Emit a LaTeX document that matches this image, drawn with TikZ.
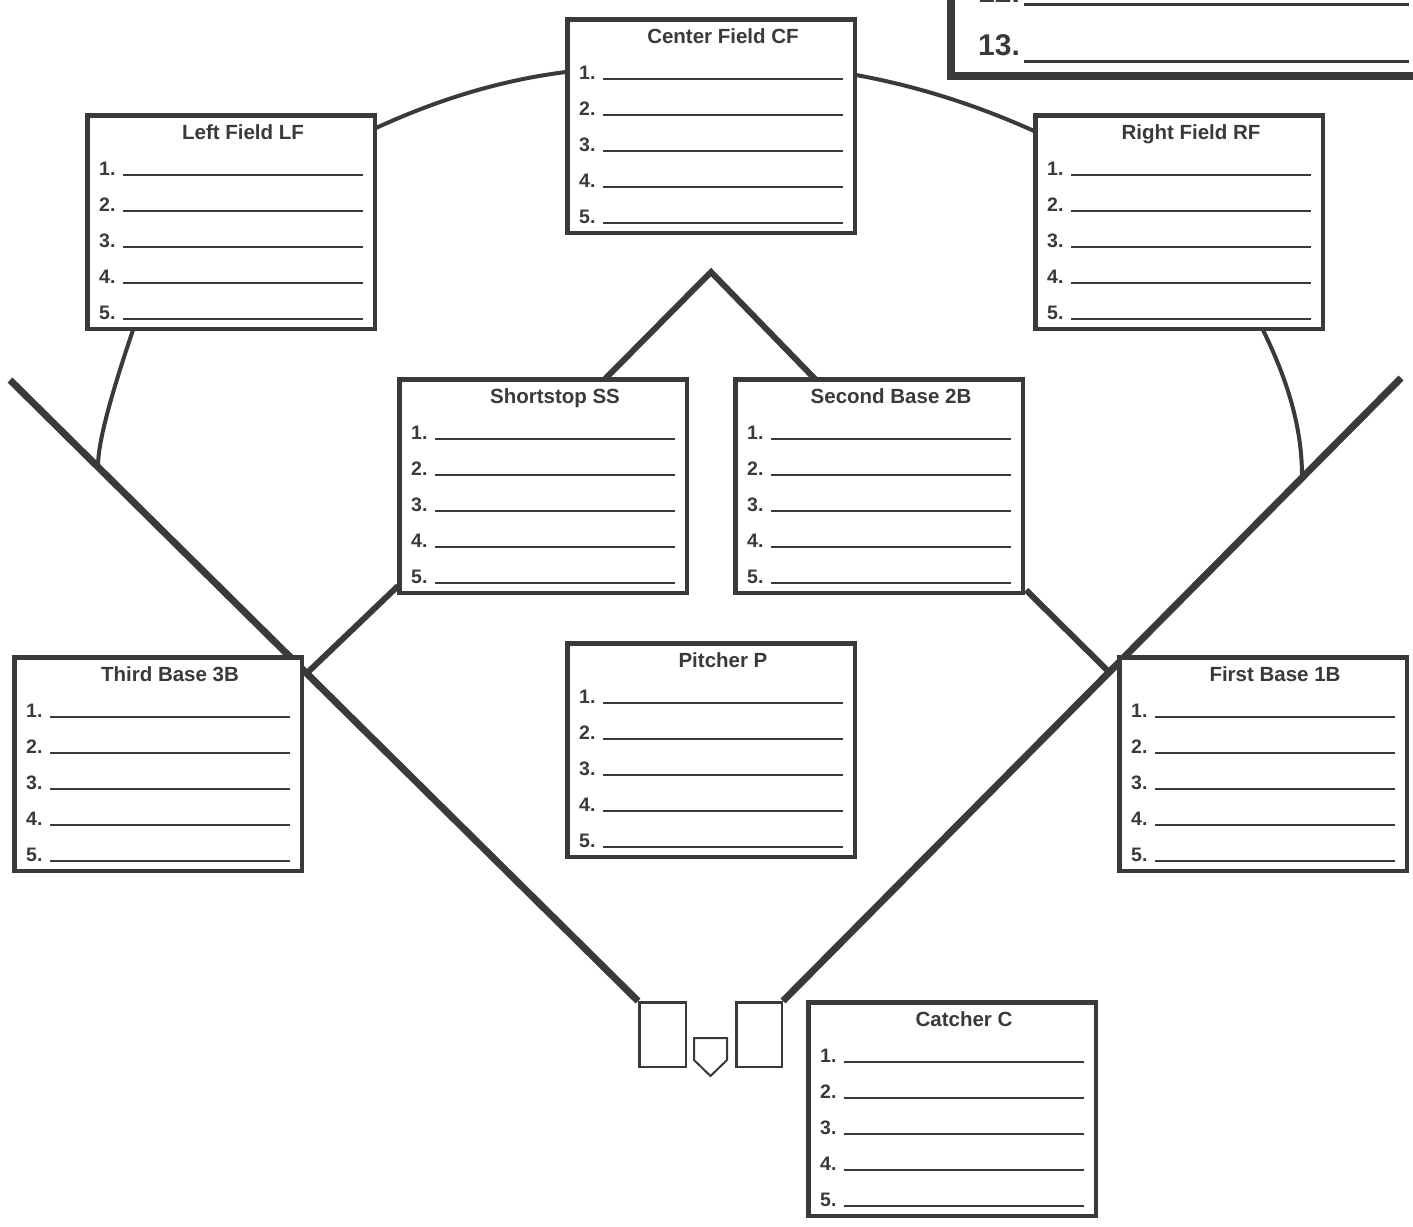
\documentclass[tikz,border=0pt]{standalone}
\usepackage{fontspec}
\setmainfont{Liberation Sans}
\usetikzlibrary{calc,backgrounds}
\definecolor{ink}{HTML}{3A3A3A}
\tikzset{
 fbox/.style={draw=ink, line width=4.5pt, minimum width=287.5pt, minimum height=213.5pt, inner sep=0pt, anchor=north west, fill=white},
 ttl/.style={text=ink, font=\fontsize{20.5}{24}\selectfont\bfseries, inner sep=0pt, anchor=base},
 num/.style={text=ink, font=\fontsize{19.5}{23}\selectfont\bfseries, inner sep=0pt, anchor=base west},
 bignum/.style={text=ink, font=\fontsize{30}{34}\selectfont\bfseries, inner sep=0pt, anchor=base west},
 uline/.style={draw=ink, line width=2pt},
 foul/.style={draw=ink, line width=7pt},
 arcline/.style={draw=ink, line width=4pt},
 link/.style={draw=ink, line width=6pt},
 bbox/.style={draw=ink, line width=2.5pt, inner sep=0pt, anchor=north west, fill=white},
}
\newcommand\posbox[4]{%
 \node[fbox] (#1) at (#2,#3) {};
 \node[ttl] (#1-title) at ($(#1.north west)+(158,26)$) {#4};
 \foreach \k in {1,...,5}{%
  \node[num] (#1-n\k) at ($(#1.north west)+(14,26+36*\k)$) {\k.};
  \coordinate (#1-a\k) at ($(#1.north west)+(38,26+36*\k)$);
  \coordinate (#1-b\k) at ($(#1.north west)+(278,26+36*\k)$);
  \draw[uline] (#1-a\k) -- (#1-b\k);
 }%
}
\begin{document}
\begin{tikzpicture}[x=1pt,y=-1pt]
\useasboundingbox (0,0) rectangle (1413,1226);
% position boxes
\posbox{cf}{565}{17}{Center Field CF}
\posbox{lf}{85}{113}{Left Field LF}
\posbox{rf}{1033}{113}{Right Field RF}
\posbox{ss}{397}{377}{Shortstop SS}
\posbox{sb}{733}{377}{Second Base 2B}
\posbox{tb}{12}{655}{Third Base 3B}
\posbox{pp}{565}{641}{Pitcher P}
\posbox{fb}{1117}{655}{First Base 1B}
\posbox{cc}{806}{1000}{Catcher C}
% roster box (cut by the page edge)
\node[draw=ink, line width=8pt, minimum width=505pt, minimum height=102pt, inner sep=0pt, anchor=north west, fill=white] (roster) at (947,-30) {};
\node[bignum] (r12) at (978,2) {12.};
\node[bignum] (r13) at (978,55) {13.};
\draw[draw=ink, line width=3pt] ($(r12.base east)+(4,2)$) -- ++(385,0);
\draw[draw=ink, line width=3pt] ($(r13.base east)+(4,6)$) -- ++(385,0);
% batter's boxes and home plate
\node[bbox, minimum width=46.5pt, minimum height=64.5pt] (lbb) at (638,1001) {};
\node[bbox, minimum width=45.5pt, minimum height=64.5pt] (rbb) at (735,1001) {};
\draw[draw=ink, line width=2pt, line join=miter] (694,1038) -- (727,1038) -- (727,1060) -- (710.5,1076) -- (694,1060) -- cycle;
% field lines
\coordinate (lfoul) at (10,380);
\coordinate (rfoul) at (1401,378);
\coordinate (apex) at (711,272);
\coordinate (thirdpt) at (307,673);
\coordinate (firstpt) at (1108,671);
\coordinate (lcorner) at (98,466);
\coordinate (rcorner) at (1302,476);
\begin{scope}[on background layer]
\draw[foul] (lfoul) -- (lbb.north west);
\draw[foul] (rfoul) -- (rbb.north east);
\draw[link, line join=miter] ($(ss.north west)+(207,3)$) -- (apex) -- ($(sb.north west)+(83,3)$);
\draw[link] ($(ss.south west)+(1,-9)$) -- (thirdpt);
\draw[link] ($(sb.south east)+(1,-5)$) -- (firstpt);
\draw[arcline] ($(lf.north east)+(-1,15)$) .. controls (439,99) and (502,80) .. ($(cf.north west)+(1,55)$);
\draw[arcline] ($(cf.north east)+(-1,58)$) .. controls (916,86) and (974,104) .. ($(rf.north west)+(1,18)$);
\draw[arcline] ($(lf.south west)+(48,-1)$) .. controls (110,398) and (98,443) .. (lcorner);
\draw[arcline] ($(rf.south west)+(230,-1)$) .. controls (1289,383) and (1302,430) .. (rcorner);
\end{scope}
\end{tikzpicture}
\end{document}
